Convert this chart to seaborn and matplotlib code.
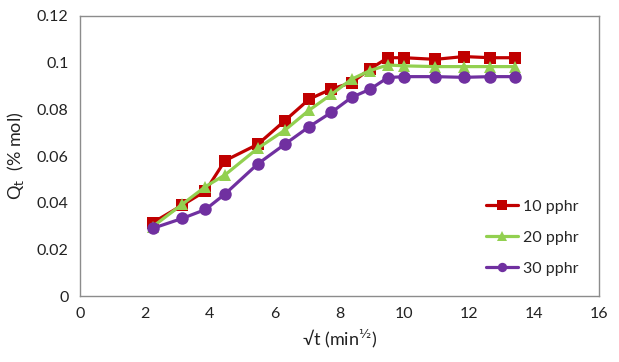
import matplotlib
matplotlib.use("Agg")
import matplotlib.pyplot as plt
import numpy as np
import pandas as pd
import seaborn as sns

# sqrt(t) positions
sqrt_t = [2.24, 3.16, 3.87, 4.47, 5.48, 6.32, 7.07, 7.75, 8.37, 8.94,
          9.49, 10.0, 10.95, 11.83, 12.65, 13.42]

q_10 = [0.0314, 0.0390, 0.0450, 0.0580, 0.0650, 0.0752, 0.0844, 0.0887,
        0.0914, 0.0973, 0.1021, 0.1021, 0.1014, 0.1026, 0.1021, 0.1021]
q_20 = [0.0297, 0.0394, 0.0469, 0.0519, 0.0633, 0.0711, 0.0797, 0.0864,
        0.0929, 0.0966, 0.0990, 0.0986, 0.0983, 0.0983, 0.0983, 0.0983]
q_30 = [0.0290, 0.0333, 0.0371, 0.0437, 0.0566, 0.0651, 0.0726, 0.0787,
        0.0851, 0.0886, 0.0936, 0.0940, 0.0940, 0.0937, 0.0940, 0.0940]

labels = ["10 pphr", "20 pphr", "30 pphr"]
c_palette = {"10 pphr": "#C00000", "20 pphr": "#92D050", "30 pphr": "#7030A0"}
c_markers = {"10 pphr": "s", "20 pphr": "^", "30 pphr": "o"}

df = pd.concat([
    pd.DataFrame({"x": sqrt_t, "q": q, "series": lab})
    for q, lab in zip([q_10, q_20, q_30], labels)
])

sns.set_style("white")
plt.rcParams["font.family"] = ["Lato", "DejaVu Sans"]

fig = plt.figure(figsize=(6.19, 3.62), dpi=100)
ax = fig.add_axes([0.129, 0.182, 0.839, 0.774])

sns.lineplot(data=df, x="x", y="q", hue="series", style="series",
             palette=c_palette, markers=c_markers, dashes=False,
             linewidth=2.3, markersize=9, markeredgewidth=0, ax=ax)

ax.set_xlim(0, 16)
ax.set_ylim(0, 0.12)
ax.set_xticks(np.arange(0, 17, 2))
ax.set_yticks(np.arange(0, 0.121, 0.02))
ax.set_yticklabels(["0", "0.02", "0.04", "0.06", "0.08", "0.1", "0.12"])
ax.tick_params(axis="both", length=0, labelsize=11.5, colors="#222222", pad=8)
for s in ax.spines.values():
    s.set_color("#8c8c8c")
    s.set_linewidth(1)

ax.set_xlabel("√t (min$^{½}$)", fontsize=13, color="#222222", labelpad=5)
ax.set_ylabel(r"Q$_\mathrm{t}$  (% mol)", fontsize=13, color="#222222", labelpad=8)

leg = ax.legend(loc="upper left", bbox_to_anchor=(0.755, 0.395), frameon=False,
                fontsize=11.5, handlelength=2.0, labelspacing=1.05,
                handletextpad=0.3, markerscale=0.75)

plt.savefig("out.png", dpi=100)
